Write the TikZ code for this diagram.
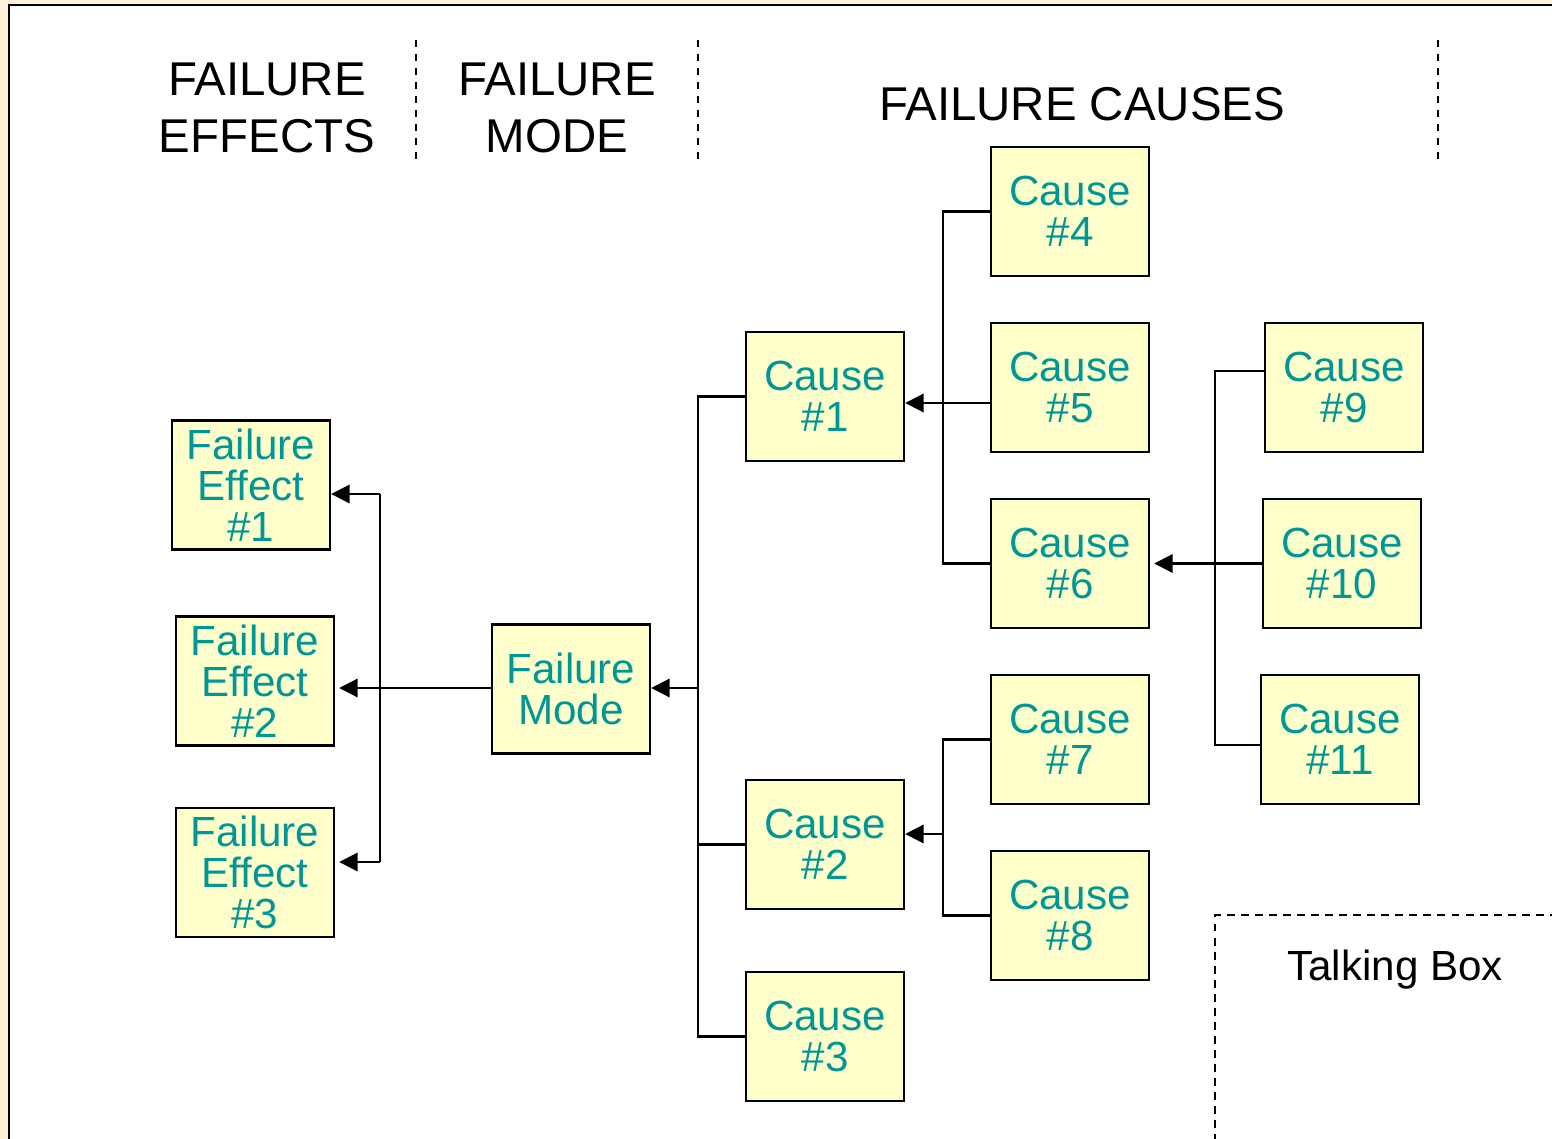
\documentclass[tikz,border=0pt]{standalone}
\usepackage{fontspec}
\setmainfont{Liberation Sans}
\usetikzlibrary{arrows.meta, calc}
\definecolor{framebg}{RGB}{255,240,214}
\definecolor{boxyellow}{RGB}{255,255,204}
\definecolor{causeteal}{RGB}{0,150,150}

\begin{document}
\begin{tikzpicture}[
    x=0.02cm, y=-0.02cm,
    fmbox/.style={rectangle, draw=black, line width=1.4pt, fill=boxyellow, minimum width=3.16cm, minimum height=2.58cm, inner sep=0pt, align=center, text=causeteal, font=\fontsize{24}{23.3}\selectfont},
    link/.style={line width=1.2pt},
    arrow/.style={link, -{Triangle[length=10.5pt, width=10.5pt]}},
    divider/.style={line width=1.4pt, dash pattern=on 4pt off 4pt},
    heading/.style={align=center, font=\fontsize{27}{32.4}\selectfont},
    every node/.style={font=\fontsize{24}{23.3}\selectfont}
]
\clip (0,0) rectangle (1552,1139);
\fill[framebg] (0,0) rectangle (1552,1139);
\draw[fill=white, line width=1.1pt] (9,5) rectangle (1600,1200);
% column headings
\node[heading] (h_effects) at (267,108) {FAILURE\\EFFECTS};
\node[heading] (h_mode) at (557,108) {FAILURE\\MODE};
\node[heading] (h_causes) at (1082,104) {FAILURE CAUSES};
\foreach \xpos in {416, 698, 1438} {
    \draw[divider] (\xpos,40) -- (\xpos,160);
}
% effects and mode
\node[fmbox] (fe1) at (251,485) {Failure\\Effect\\\#1};
\node[fmbox] (fe2) at (255,681) {Failure\\Effect\\\#2};
\node[fmbox] (fe3) at (255,872.5) {Failure\\Effect\\\#3};
\node[fmbox] (fm) at (571,689) {Failure\\Mode};
% causes
\foreach \i/\xpos/\ypos in {1/825/396.5, 2/825/844.5, 3/825/1036.5,
                            4/1070/211.5, 5/1070/387.5, 6/1070/563.5, 7/1070/739.5, 8/1070/915.5,
                            9/1344/387.5, 10/1342/563.5, 11/1340/739.5} {
    \node[fmbox] (c\i) at (\xpos,\ypos) {Cause\\\#\i};
}
% mode -> effects
\coordinate (ebus) at (380,688);
\coordinate (etop) at (380,494);
\coordinate (ebot) at (380,862);
\draw[arrow] (fm.west |- ebus) -- ($(fe2.east |- ebus)+(4,0)$);
\draw[link] (etop) -- (ebot);
\draw[arrow] (etop) -- (fe1.east |- etop);
\draw[arrow] (ebot) -- ($(fe3.east |- ebot)+(4,0)$);
% causes -> mode
\coordinate (mbus) at (698,688);
\draw[arrow] (mbus) -- (fm.east |- mbus);
\draw[link] (c1.west) -| (mbus) |- (c3.west);
\draw[link] (c2.west) -- (c2.west -| mbus);
% causes -> cause 1
\coordinate (abus) at (943,403);
\draw[arrow] (c5.west |- abus) -- (c1.east |- abus);
\draw[link] (c4.west) -| (abus) |- (c6.west);
% causes -> cause 2
\coordinate (bbus) at (943,834);
\draw[arrow] (bbus) -- (c2.east |- bbus);
\draw[link] (c7.west) -| (bbus) |- (c8.west);
% causes -> cause 6
\coordinate (dtop) at (1215,371);
\coordinate (dbot) at (1215,745);
\draw[link] (c9.west |- dtop) -- (dtop) -- (dbot) -- (c11.west |- dbot);
\draw[arrow] (c10.west) -- ($(c6.east)+(4,0)$);
% talking box
\draw[line width=1.1pt, dash pattern=on 4.5pt off 3.5pt] (1600,915) -- (1215,915) -- (1215,1160);
\node (talk) at (1395,970) {Talking Box};
\end{tikzpicture}
\end{document}
